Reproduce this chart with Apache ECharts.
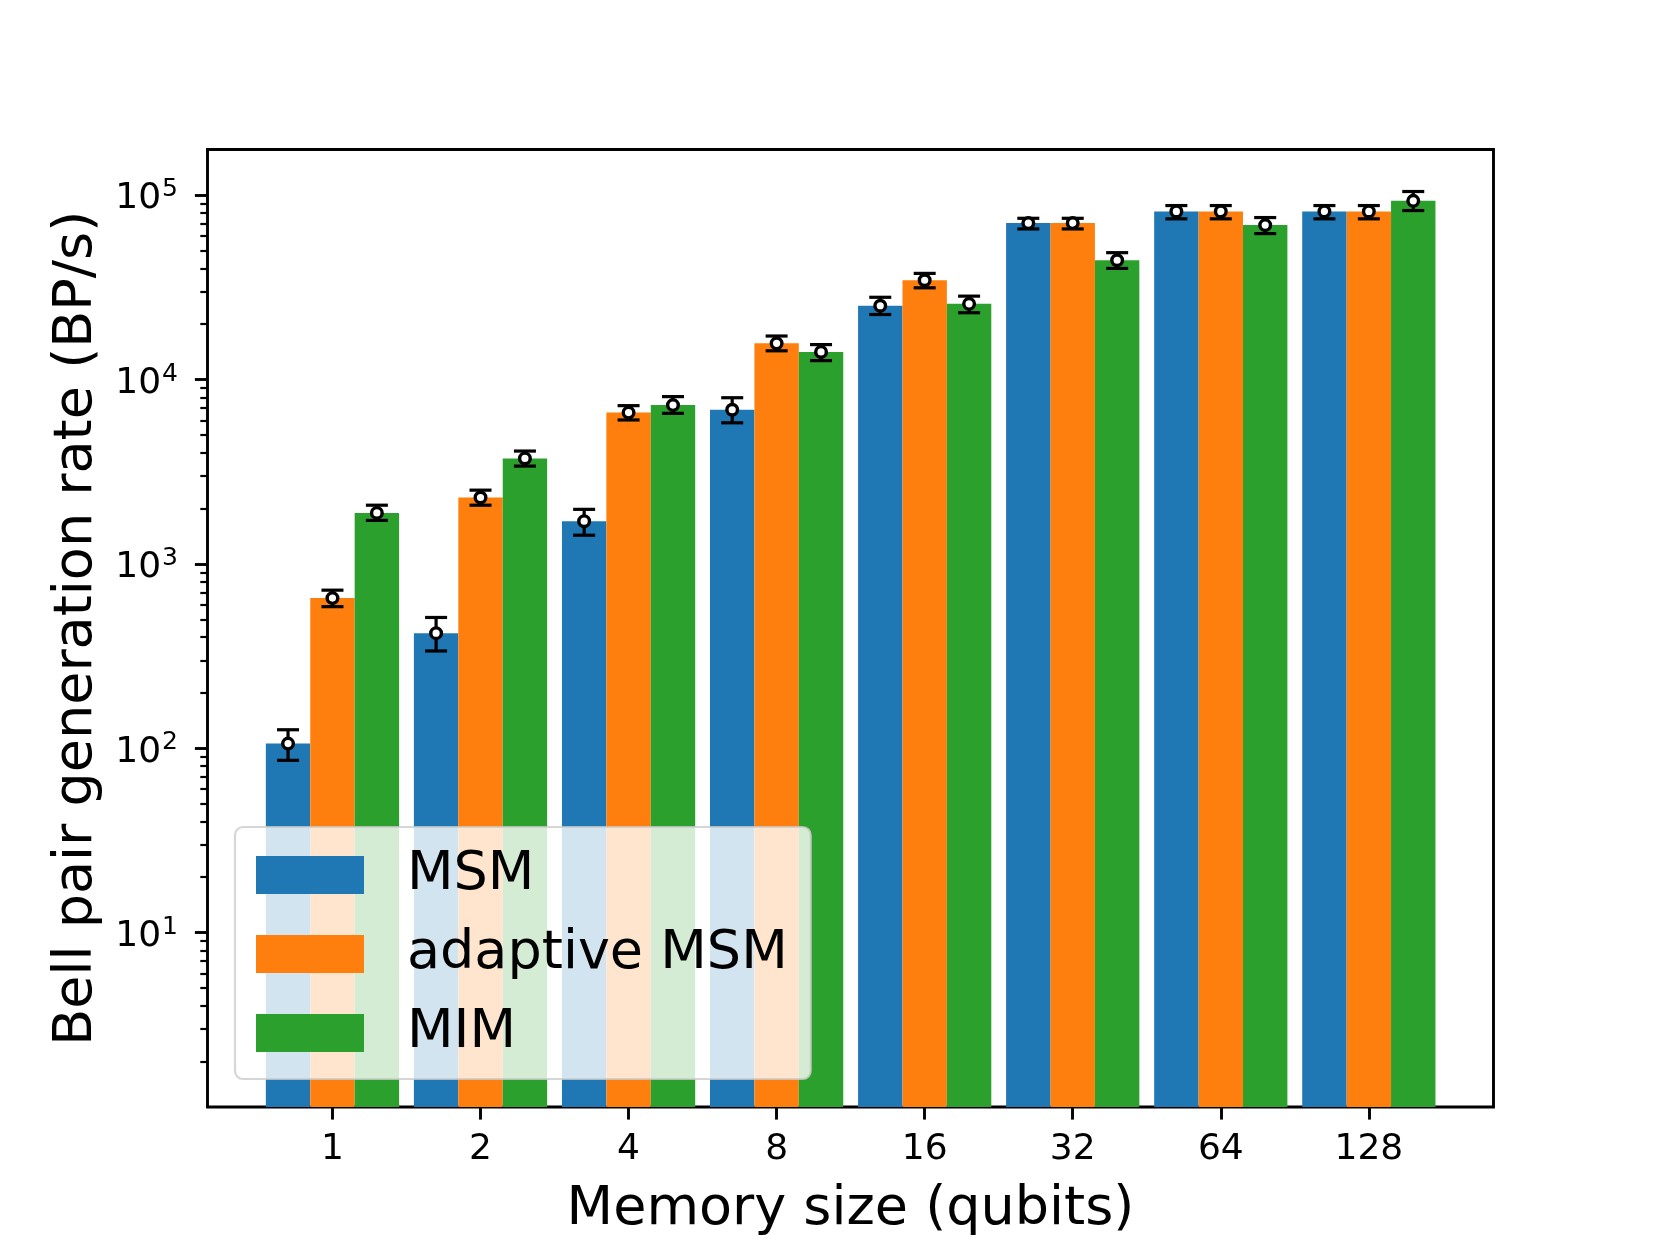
<!DOCTYPE html>
<html><head><meta charset="utf-8">
<script src="https://cdn.jsdelivr.net/npm/echarts@6/dist/echarts.min.js"></script>
<style>html,body{margin:0;padding:0;background:#fff}#c{width:1660px;height:1245px}</style>
</head><body><div id="c"></div>
<script>
// ---- data ----
const categories = ['1', '2', '4', '8', '16', '32', '64', '128'];
const seriesNames = ['MSM', 'adaptive MSM', 'MIM'];
const colors = ['#1f77b4', '#ff7f0e', '#2ca02c'];

const msmValues  = [106, 421, 1703, 6850, 25100, 70500, 81500, 81500];
const amsmValues = [652, 2290, 6610, 15700, 34500, 70500, 81500, 81500];
const mimValues  = [1890, 3730, 7260, 14100, 25700, 44300, 68700, 93000];

const msmLow   = [86, 337, 1430, 5820, 22500, 65500, 74300, 74300];
const msmHigh  = [126, 512, 1975, 7960, 27900, 74800, 87700, 87700];
const amsmLow  = [586, 2080, 6030, 14300, 31400, 65500, 74300, 74300];
const amsmHigh = [720, 2510, 7210, 17200, 37600, 74800, 87700, 87700];
const mimLow   = [1720, 3390, 6550, 12650, 23000, 40000, 61800, 82400];
const mimHigh  = [2080, 4090, 8070, 15450, 28300, 48700, 75500, 104500];

const yMajorTicks = [10, 100, 1000, 10000, 100000];
const yMinorTicks = [2,3,4,5,6,7,8,9,20,30,40,50,60,70,80,90,200,300,400,500,600,700,800,900,
  2000,3000,4000,5000,6000,7000,8000,9000,20000,30000,40000,50000,60000,70000,80000,90000];

// ---- build ----
const values = [msmValues, amsmValues, mimValues];
const lows = [msmLow, amsmLow, mimLow];
const highs = [msmHigh, amsmHigh, mimHigh];
const offsets = [-0.3, 0, 0.3];
const FONT = 'DejaVu Sans';

const series = [];
values.forEach((vals, s) => {
  series.push({
    name: seriesNames[s],
    type: 'bar',
    data: vals.map((v, i) => [i + offsets[s], v]),
    barWidth: 44.4,
    barGap: '-100%',
    clip: true,
    itemStyle: { color: colors[s] },
    z: 2
  });
});
values.forEach((vals, s) => {
  series.push({
    name: 'err' + s,
    type: 'custom',
    data: vals.map((v, i) => [i + offsets[s], lows[s][i], highs[s][i], v]),
    encode: { x: 0, y: [1, 2, 3] },
    z: 3,
    renderItem: function (params, api) {
      const x = api.value(0);
      const pLo = api.coord([x, api.value(1)]);
      const pHi = api.coord([x, api.value(2)]);
      const pM = api.coord([x, api.value(3)]);
      const cap = 11;
      const st = { stroke: '#000', lineWidth: 3.2 };
      return {
        type: 'group',
        children: [
          { type: 'line', shape: { x1: pLo[0], y1: pLo[1], x2: pHi[0], y2: pHi[1] }, style: st },
          { type: 'line', shape: { x1: pLo[0] - cap, y1: pLo[1], x2: pLo[0] + cap, y2: pLo[1] }, style: st },
          { type: 'line', shape: { x1: pHi[0] - cap, y1: pHi[1], x2: pHi[0] + cap, y2: pHi[1] }, style: st },
          { type: 'circle', shape: { cx: pM[0], cy: pM[1], r: 5.3 }, style: { fill: '#fff', stroke: '#000', lineWidth: 3.4 } }
        ]
      };
    }
  });
});

const chart = echarts.init(document.getElementById('c'), null, { renderer: 'canvas' });
chart.setOption({
  animation: false,
  backgroundColor: '#fff',
  textStyle: { fontFamily: FONT },
  grid: {
    left: 207.5, right: 166.5, top: 149.5, bottom: 138,
    show: true, borderColor: '#000', borderWidth: 2.9, backgroundColor: 'transparent'
  },
  legend: {
    data: seriesNames,
    left: 235, top: 827,
    orient: 'vertical',
    icon: 'rect',
    itemWidth: 108, itemHeight: 38, itemGap: 25,
    padding: [21, 23, 19, 21],
    backgroundColor: 'rgba(255,255,255,0.8)',
    borderColor: 'rgba(204,204,204,0.8)',
    borderWidth: 2.2,
    borderRadius: 8,
    textStyle: { fontFamily: FONT, fontSize: 54, color: '#000', lineHeight: 38, padding: [0, 0, 0, 38] },
    z: 10
  },
  xAxis: {
    type: 'value',
    min: -0.844, max: 7.842,
    splitLine: { show: false },
    axisLine: { show: false, onZero: false },
    axisTick: { show: true, customValues: categories.map((c, i) => i), length: 12.6, lineStyle: { color: '#000', width: 2.9 } },
    axisLabel: {
      customValues: categories.map((c, i) => i),
      formatter: v => categories[Math.round(v)],
      fontFamily: FONT, fontSize: 36, color: '#000', margin: 25, lineHeight: 36
    },
    name: 'Memory size (qubits)',
    nameLocation: 'middle',
    nameGap: 76,
    nameTextStyle: { fontFamily: FONT, fontSize: 54, color: '#000', lineHeight: 54 }
  },
  yAxis: [{
    type: 'log',
    logBase: 10,
    min: 1.134, max: 176600,
    splitLine: { show: false },
    axisLine: { show: false, onZero: false },
    axisTick: { show: true, customValues: yMajorTicks, length: 12.6, lineStyle: { color: '#000', width: 2.9 } },
    axisLabel: {
      customValues: yMajorTicks,
      margin: 29.5,
      formatter: v => '{b|10}{s|' + Math.round(Math.log10(v)) + '}',
      rich: {
        b: { fontFamily: FONT, fontSize: 36, color: '#000', lineHeight: 36, padding: [8, 0, 0, 0] },
        s: { fontFamily: FONT, fontSize: 25, color: '#000', lineHeight: 25, padding: [0, 0, 10.6, 1] }
      }
    },
    name: 'Bell pair generation rate (BP/s)',
    nameLocation: 'middle',
    nameGap: 101,
    nameTextStyle: { fontFamily: FONT, fontSize: 54, color: '#000', lineHeight: 54 }
  }, {
    type: 'log',
    logBase: 10,
    min: 1.134, max: 176600,
    position: 'left',
    splitLine: { show: false },
    axisLine: { show: false, onZero: false },
    axisLabel: { show: false },
    axisTick: { show: true, customValues: yMinorTicks, length: 7.2, lineStyle: { color: '#000', width: 2.2 } }
  }],
  series: series
});
</script>
</body></html>
